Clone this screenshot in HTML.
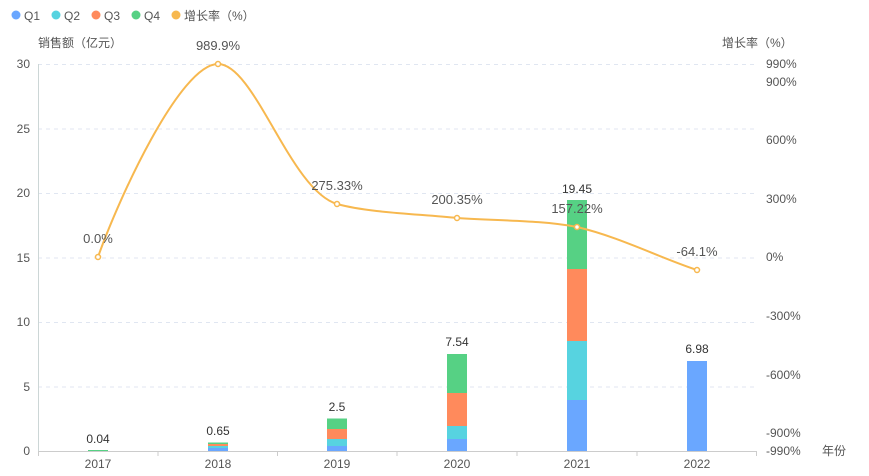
<!DOCTYPE html><html><head><meta charset="utf-8"><style>body{margin:0;background:#fff}svg{display:block;font-family:"Liberation Sans","Noto Sans CJK SC",sans-serif}</style></head><body>
<svg width="869" height="476" viewBox="0 0 869 476">
<g font-size="12" fill="#555">
<circle cx="16" cy="15" r="4.5" fill="#6aa7ff"/><text x="24" y="20">Q1</text>
<circle cx="56" cy="15" r="4.5" fill="#57d3e0"/><text x="64" y="20">Q2</text>
<circle cx="96" cy="15" r="4.5" fill="#ff8a5c"/><text x="104" y="20">Q3</text>
<circle cx="136" cy="15" r="4.5" fill="#56d184"/><text x="144" y="20">Q4</text>
<circle cx="176" cy="15" r="4.5" fill="#f7b84f"/><text x="184" y="20">增长率（%）</text>
<text x="38" y="47">销售额（亿元）</text>
<text x="722" y="47">增长率（%）</text>
</g>
<g stroke="#e0e6f1" stroke-dasharray="4,4">
<line x1="38" x2="757" y1="64.5" y2="64.5"/><line x1="38" x2="757" y1="129" y2="129"/><line x1="38" x2="757" y1="193.5" y2="193.5"/><line x1="38" x2="757" y1="258" y2="258"/><line x1="38" x2="757" y1="322.5" y2="322.5"/><line x1="38" x2="757" y1="387" y2="387"/>
</g>
<line x1="38.5" y1="64" x2="38.5" y2="451" stroke="#ccd6d6"/>
<line x1="38" y1="451.5" x2="757" y2="451.5" stroke="#ccc"/>
<g stroke="#ccc"><line x1="38.5" x2="38.5" y1="451" y2="456"/><line x1="158" x2="158" y1="451" y2="456"/><line x1="277.5" x2="277.5" y1="451" y2="456"/><line x1="397" x2="397" y1="451" y2="456"/><line x1="517" x2="517" y1="451" y2="456"/><line x1="637" x2="637" y1="451" y2="456"/><line x1="756.5" x2="756.5" y1="451" y2="456"/></g>
<g font-size="12" fill="#555" text-anchor="end">
<text x="30" y="68">30</text><text x="30" y="133">25</text><text x="30" y="197">20</text><text x="30" y="262">15</text><text x="30" y="326">10</text><text x="30" y="391">5</text><text x="30" y="455">0</text>
</g>
<g font-size="12" fill="#555">
<text x="766" y="68">990%</text><text x="766" y="86">900%</text><text x="766" y="144">600%</text><text x="766" y="203">300%</text><text x="766" y="261">0%</text><text x="766" y="320">-300%</text><text x="766" y="379">-600%</text><text x="766" y="437">-900%</text><text x="766" y="455">-990%</text>
<text x="822" y="455">年份</text>
</g>
<g font-size="12" fill="#555" text-anchor="middle">
<text x="98" y="468">2017</text><text x="218" y="468">2018</text><text x="337" y="468">2019</text><text x="457" y="468">2020</text><text x="577" y="468">2021</text><text x="697" y="468">2022</text>
</g>
<!-- bars -->
<rect x="88" y="450" width="20" height="1" fill="#56d184"/>
<rect x="208" y="448" width="20" height="3" fill="#6aa7ff"/><rect x="208" y="446" width="20" height="2" fill="#57d3e0"/><rect x="208" y="444" width="20" height="2" fill="#ff8a5c"/><rect x="208" y="442.5" width="20" height="1.5" fill="#56d184"/>
<rect x="327" y="446" width="20" height="5" fill="#6aa7ff"/><rect x="327" y="439" width="20" height="7" fill="#57d3e0"/><rect x="327" y="429" width="20" height="10" fill="#ff8a5c"/><rect x="327" y="418.5" width="20" height="10.5" fill="#56d184"/>
<rect x="447" y="439" width="20" height="12" fill="#6aa7ff"/><rect x="447" y="426" width="20" height="13" fill="#57d3e0"/><rect x="447" y="393" width="20" height="33" fill="#ff8a5c"/><rect x="447" y="354" width="20" height="39" fill="#56d184"/>
<rect x="567" y="400" width="20" height="51" fill="#6aa7ff"/><rect x="567" y="341" width="20" height="59" fill="#57d3e0"/><rect x="567" y="269" width="20" height="72" fill="#ff8a5c"/><rect x="567" y="200" width="20" height="69" fill="#56d184"/>
<rect x="687" y="361" width="20" height="90" fill="#6aa7ff"/>
<g font-size="12" fill="#333" text-anchor="middle">
<text x="98" y="443">0.04</text><text x="218" y="435">0.65</text><text x="337" y="411">2.5</text><text x="457" y="346">7.54</text><text x="577" y="193">19.45</text><text x="697" y="353">6.98</text>
</g>
<path d="M98,257 C118,200 180,64 218,64 C255,64 290,190 337,204 C370,213 420,214 457,218 C500,221 540,220 577,227 C620,237 660,258 697,270" fill="none" stroke="#f7b84f" stroke-width="2"/>
<g fill="#fff" stroke="#f7b84f" stroke-width="1.5"><circle cx="98" cy="257" r="2.5"/><circle cx="218" cy="64" r="2.5"/><circle cx="337" cy="204" r="2.5"/><circle cx="457" cy="218" r="2.5"/><circle cx="577" cy="227" r="2.5"/><circle cx="697" cy="270" r="2.5"/></g>
<g font-size="13" fill="#555" text-anchor="middle">
<text x="98" y="243">0.0%</text><text x="218" y="50">989.9%</text><text x="337" y="190">275.33%</text><text x="457" y="204">200.35%</text><text x="577" y="213">157.22%</text><text x="697" y="256">-64.1%</text>
</g>
</svg>
</body></html>
